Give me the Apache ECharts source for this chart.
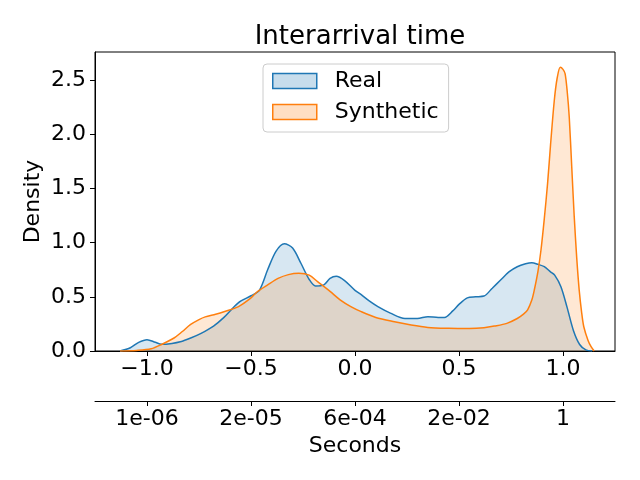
<!DOCTYPE html>
<html>
<head>
<meta charset="utf-8">
<script src="https://cdn.jsdelivr.net/npm/echarts@6/dist/echarts.min.js"></script>
<style>
  html, body { margin: 0; padding: 0; background: #fff; }
  #chart { width: 640px; height: 480px; }
</style>
</head>
<body>
<div id="chart"></div>
<script>
// KDE of real interarrival times (x, density)
const realX = [-1.13, -1.08, -1.04, -1.0, -0.96, -0.93, -0.88, -0.84, -0.79, -0.74, -0.68, -0.63, -0.58, -0.55, -0.5, -0.46, -0.42, -0.38, -0.34, -0.3, -0.26, -0.22, -0.19, -0.15, -0.12, -0.09, -0.05, 0.0, 0.03, 0.07, 0.11, 0.17, 0.24, 0.3, 0.35, 0.4, 0.43, 0.47, 0.5, 0.54, 0.58, 0.62, 0.66, 0.7, 0.74, 0.78, 0.82, 0.85, 0.88, 0.91, 0.94, 0.96, 0.99, 1.02, 1.05, 1.08, 1.11, 1.14];
const realY = [0, 0.03, 0.08, 0.105, 0.08, 0.062, 0.07, 0.085, 0.12, 0.163, 0.23, 0.31, 0.41, 0.46, 0.51, 0.56, 0.75, 0.92, 0.99, 0.95, 0.81, 0.66, 0.6, 0.61, 0.67, 0.69, 0.65, 0.56, 0.52, 0.46, 0.41, 0.35, 0.3, 0.3, 0.317, 0.31, 0.31, 0.37, 0.43, 0.49, 0.5, 0.507, 0.58, 0.655, 0.73, 0.778, 0.805, 0.815, 0.8, 0.778, 0.73, 0.7, 0.593, 0.4, 0.19, 0.06, 0.01, 0];

// KDE of synthetic interarrival times
const synX = [-1.13, -1.05, -0.98, -0.93, -0.87, -0.83, -0.79, -0.75, -0.72, -0.67, -0.63, -0.56, -0.5, -0.47, -0.42, -0.37, -0.32, -0.27, -0.22, -0.18, -0.12, -0.07, -0.02, 0.03, 0.1, 0.19, 0.27, 0.35, 0.45, 0.55, 0.62, 0.67, 0.73, 0.78, 0.81, 0.83, 0.85, 0.862, 0.88, 0.894, 0.91, 0.926, 0.94, 0.958, 0.972, 0.987, 1.0, 1.01, 1.02, 1.03, 1.042, 1.054, 1.066, 1.078, 1.09, 1.1, 1.12, 1.135, 1.15];
const synY = [0, 0.005, 0.02, 0.06, 0.12, 0.18, 0.245, 0.29, 0.315, 0.34, 0.363, 0.41, 0.49, 0.547, 0.61, 0.67, 0.705, 0.717, 0.7, 0.64, 0.55, 0.47, 0.41, 0.363, 0.31, 0.27, 0.24, 0.218, 0.21, 0.208, 0.215, 0.23, 0.255, 0.3, 0.34, 0.38, 0.47, 0.563, 0.74, 0.93, 1.22, 1.55, 1.9, 2.31, 2.52, 2.62, 2.6, 2.56, 2.4, 2.16, 1.7, 1.24, 0.86, 0.56, 0.35, 0.224, 0.1, 0.04, 0];

// tick positions and labels
const xTicks = [-1.0, -0.5, 0.0, 0.5, 1.0];
const yTicks = [0.0, 0.5, 1.0, 1.5, 2.0, 2.5];
const secLabels = ['1e-06', '2e-05', '6e-04', '2e-02', '1'];

const FONT = 'DejaVu Sans';
const BLUE = '#1f77b4';
const ORANGE = '#ff7f0e';

function pairs(xs, ys) {
    let pts = [];
    for (let i = 0; i < xs.length; i++) {
        pts.push([xs[i], ys[i]]);
    }
    return pts;
}

function minusFmt(v) {
    return v.toFixed(1).replace('-', '\u2212');
}

let chart = echarts.init(document.getElementById('chart'), null, {renderer: 'canvas'});

let tickStyle = {show: true, length: 5, lineStyle: {color: '#000', width: 1}};

let option = {
    backgroundColor: '#fff',
    animation: false,
    textStyle: {fontFamily: FONT, color: '#000'},
    title: {
        text: 'Interarrival time',
        left: 355,
        textAlign: 'center',
        top: 19,
        textStyle: {fontFamily: FONT, fontSize: 26, fontWeight: 'normal', color: '#000'}
    },
    legend: {
        orient: 'vertical',
        left: 263,
        top: 64,
        padding: [6, 10, 9, 9],
        itemGap: 9,
        itemWidth: 44,
        itemHeight: 15,
        icon: 'rect',
        borderColor: '#cccccc',
        borderWidth: 1,
        borderRadius: 4,
        backgroundColor: 'rgba(255,255,255,0.8)',
        textStyle: {fontFamily: FONT, fontSize: 22, color: '#000', padding: [0, 0, 0, 13]},
        data: [
            {name: 'Real', itemStyle: {color: 'rgba(31,119,180,0.25)', borderColor: BLUE, borderWidth: 1.5}},
            {name: 'Synthetic', itemStyle: {color: 'rgba(255,127,14,0.25)', borderColor: ORANGE, borderWidth: 1.5}}
        ]
    },
    grid: {
        left: 95,
        right: 25,
        top: 52,
        bottom: 129,
        show: true,
        borderColor: '#000',
        borderWidth: 1
    },
    xAxis: [{
        type: 'value',
        min: -1.25,
        max: 1.25,
        axisLine: {show: true, onZero: false, lineStyle: {color: '#000', width: 1}},
        axisTick: Object.assign({customValues: xTicks}, tickStyle),
        axisLabel: {customValues: xTicks, formatter: minusFmt, fontSize: 22, color: '#000', margin: 7, fontFamily: FONT},
        splitLine: {show: false}
    }, {
        type: 'value',
        position: 'bottom',
        offset: 50,
        min: -1.25,
        max: 1.25,
        name: 'Seconds',
        nameLocation: 'middle',
        nameGap: 34,
        nameMoveOverlap: false,
        nameTextStyle: {fontSize: 22, color: '#000', fontFamily: FONT},
        axisLine: {show: true, onZero: false, lineStyle: {color: '#000', width: 1}},
        axisTick: Object.assign({customValues: xTicks}, tickStyle),
        axisLabel: {
            customValues: xTicks,
            formatter: function (v) {
                let idx = xTicks.indexOf(v);
                return idx >= 0 ? secLabels[idx] : '';
            },
            fontSize: 22, color: '#000', margin: 7, fontFamily: FONT
        },
        splitLine: {show: false}
    }],
    yAxis: {
        type: 'value',
        min: 0,
        max: 2.76,
        name: 'Density',
        nameLocation: 'middle',
        nameGap: 51,
        nameMoveOverlap: false,
        nameTextStyle: {fontSize: 22, color: '#000', fontFamily: FONT},
        axisLine: {show: true, onZero: false, lineStyle: {color: '#000', width: 1}},
        axisTick: Object.assign({customValues: yTicks}, tickStyle),
        axisLabel: {customValues: yTicks, formatter: function (v) { return v.toFixed(1); }, fontSize: 22, color: '#000', margin: 9, fontFamily: FONT},
        splitLine: {show: false}
    },
    series: [{
        name: 'Real',
        type: 'line',
        data: pairs(realX, realY),
        smooth: 0.3,
        showSymbol: false,
        itemStyle: {color: BLUE},
        lineStyle: {color: BLUE, width: 1.5},
        areaStyle: {color: 'rgba(31,119,180,0.25)'}
    }, {
        name: 'Synthetic',
        type: 'line',
        data: pairs(synX, synY),
        smooth: 0.3,
        showSymbol: false,
        itemStyle: {color: ORANGE},
        lineStyle: {color: ORANGE, width: 1.5},
        areaStyle: {color: 'rgba(255,127,14,0.25)'}
    }]
};

chart.setOption(option);
</script>
</body>
</html>
